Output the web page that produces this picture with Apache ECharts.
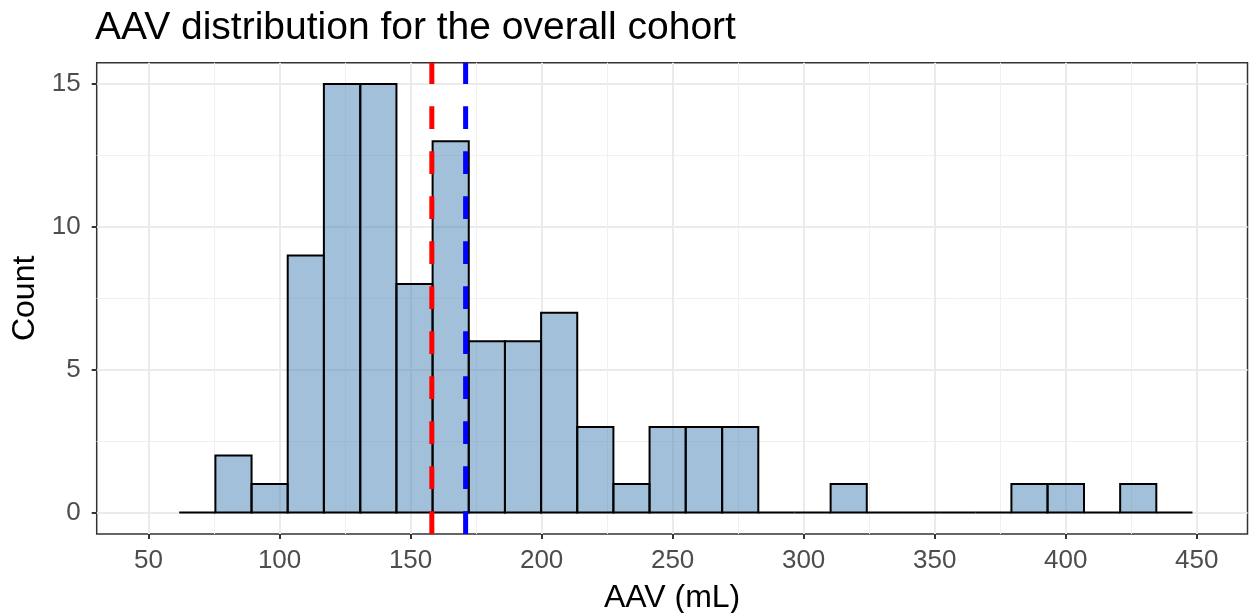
<!DOCTYPE html>
<html>
<head>
<meta charset="utf-8">
<script src="https://cdn.jsdelivr.net/npm/echarts@6/dist/echarts.min.js"></script>
<style>
html,body{margin:0;padding:0;background:#ffffff;}
#chart{width:1249px;height:613px;}
</style>
</head>
<body>
<div id="chart"></div>
<script>
// ---- data ----
const titleText = 'AAV distribution for the overall cohort';
const xAxisTitle = 'AAV (mL)';
const yAxisTitle = 'Count';
const binEdges = [61.7, 75.5, 89.3, 103.1, 116.9, 130.8, 144.6, 158.4, 172.2, 186.0,
                  199.8, 213.6, 227.4, 241.2, 255.0, 268.9, 282.7, 296.5, 310.3, 324.1,
                  337.9, 351.7, 365.5, 379.3, 393.1, 407.0, 420.8, 434.6, 448.4];
const binCounts = [0, 2, 1, 9, 15, 15, 8, 13, 6, 6,
                   7, 3, 1, 3, 3, 3, 0, 0, 1, 0,
                   0, 0, 0, 1, 1, 0, 1, 0];
const medianAAV = 158.1;
const meanAAV = 171.0;
const xTicks = [50, 100, 150, 200, 250, 300, 350, 400, 450];
const xMinorTicks = [75, 125, 175, 225, 275, 325, 375, 425];
const yTicks = [0, 5, 10, 15];
const yMinorTicks = [2.5, 7.5, 12.5];
const xRange = [30.2, 469.4];
const yRange = [-0.75, 15.75];

// ---- build ----
const histData = binCounts.map((c, i) => [binEdges[i], binEdges[i + 1], c]);
const vlineData = [[medianAAV, 0], [meanAAV, 1]];
const vlineColors = ['#ff0000', '#0000ff'];

const FONT = "'Liberation Sans', Arial, Helvetica, sans-serif";
const chart = echarts.init(document.getElementById('chart'), null, {renderer: 'canvas'});

chart.setOption({
  animation: false,
  backgroundColor: '#ffffff',
  title: {
    text: titleText,
    left: 90,
    top: 4,
    textStyle: {fontFamily: FONT, fontSize: 39, fontWeight: 'normal', color: '#000000'}
  },
  grid: {
    left: 96.7, right: 1.5, top: 62.7, bottom: 79,
    containLabel: false,
    outerBoundsMode: 'none',
    show: true, borderColor: '#333333', borderWidth: 1.5, backgroundColor: 'transparent'
  },
  xAxis: [
    {
      type: 'value', min: xRange[0], max: xRange[1], position: 'bottom',
      name: xAxisTitle, nameLocation: 'middle', nameGap: 48,
      nameTextStyle: {fontFamily: FONT, fontSize: 32, color: '#000000'},
      axisLine: {show: false, onZero: false},
      axisTick: {show: true, customValues: xTicks, length: 5, lineStyle: {color: '#333333', width: 2}},
      axisLabel: {customValues: xTicks, fontFamily: FONT, fontSize: 26, color: '#4d4d4d', margin: 14},
      splitLine: {show: true, lineStyle: {color: '#ebebeb', width: 2}}
    },
    {
      type: 'value', min: xRange[0], max: xRange[1], position: 'bottom',
      axisLine: {show: false, onZero: false},
      axisTick: {show: false, customValues: xMinorTicks},
      axisLabel: {show: false, customValues: xMinorTicks},
      splitLine: {show: true, lineStyle: {color: '#f0f0f0', width: 1}}
    }
  ],
  yAxis: [
    {
      type: 'value', min: yRange[0], max: yRange[1], position: 'left',
      name: yAxisTitle, nameLocation: 'middle', nameGap: 54, nameRotate: 90,
      nameTextStyle: {fontFamily: FONT, fontSize: 32, color: '#000000'},
      axisLine: {show: false, onZero: false},
      axisTick: {show: true, customValues: yTicks, length: 5, lineStyle: {color: '#333333', width: 2}},
      axisLabel: {customValues: yTicks, fontFamily: FONT, fontSize: 26, color: '#4d4d4d', margin: 16},
      splitLine: {show: true, lineStyle: {color: '#ebebeb', width: 2}}
    },
    {
      type: 'value', min: yRange[0], max: yRange[1], position: 'left',
      axisLine: {show: false, onZero: false},
      axisTick: {show: false, customValues: yMinorTicks},
      axisLabel: {show: false, customValues: yMinorTicks},
      splitLine: {show: true, lineStyle: {color: '#f0f0f0', width: 1}}
    }
  ],
  series: [
    {
      type: 'custom',
      name: 'histogram',
      xAxisIndex: 0, yAxisIndex: 0,
      encode: {x: [0, 1], y: 2},
      data: histData,
      z: 2,
      renderItem: function (params, api) {
        const p0 = api.coord([api.value(0), 0]);
        const p1 = api.coord([api.value(1), api.value(2)]);
        return {
          type: 'rect',
          shape: {x: p0[0], y: p1[1], width: p1[0] - p0[0], height: p0[1] - p1[1]},
          style: {fill: 'rgba(70,130,180,0.5)', stroke: '#000000', lineWidth: 2}
        };
      }
    },
    {
      type: 'custom',
      name: 'vlines',
      xAxisIndex: 0, yAxisIndex: 0,
      encode: {x: 0},
      data: vlineData,
      z: 3,
      renderItem: function (params, api) {
        const x = api.value(0);
        const a = api.coord([x, yRange[0]]);
        const b = api.coord([x, yRange[1]]);
        return {
          type: 'line',
          shape: {x1: a[0], y1: a[1], x2: b[0], y2: b[1]},
          style: {stroke: vlineColors[api.value(1)], lineWidth: 5, lineDash: [22.7, 22.3], lineCap: 'butt'}
        };
      }
    }
  ]
});
</script>
</body>
</html>
